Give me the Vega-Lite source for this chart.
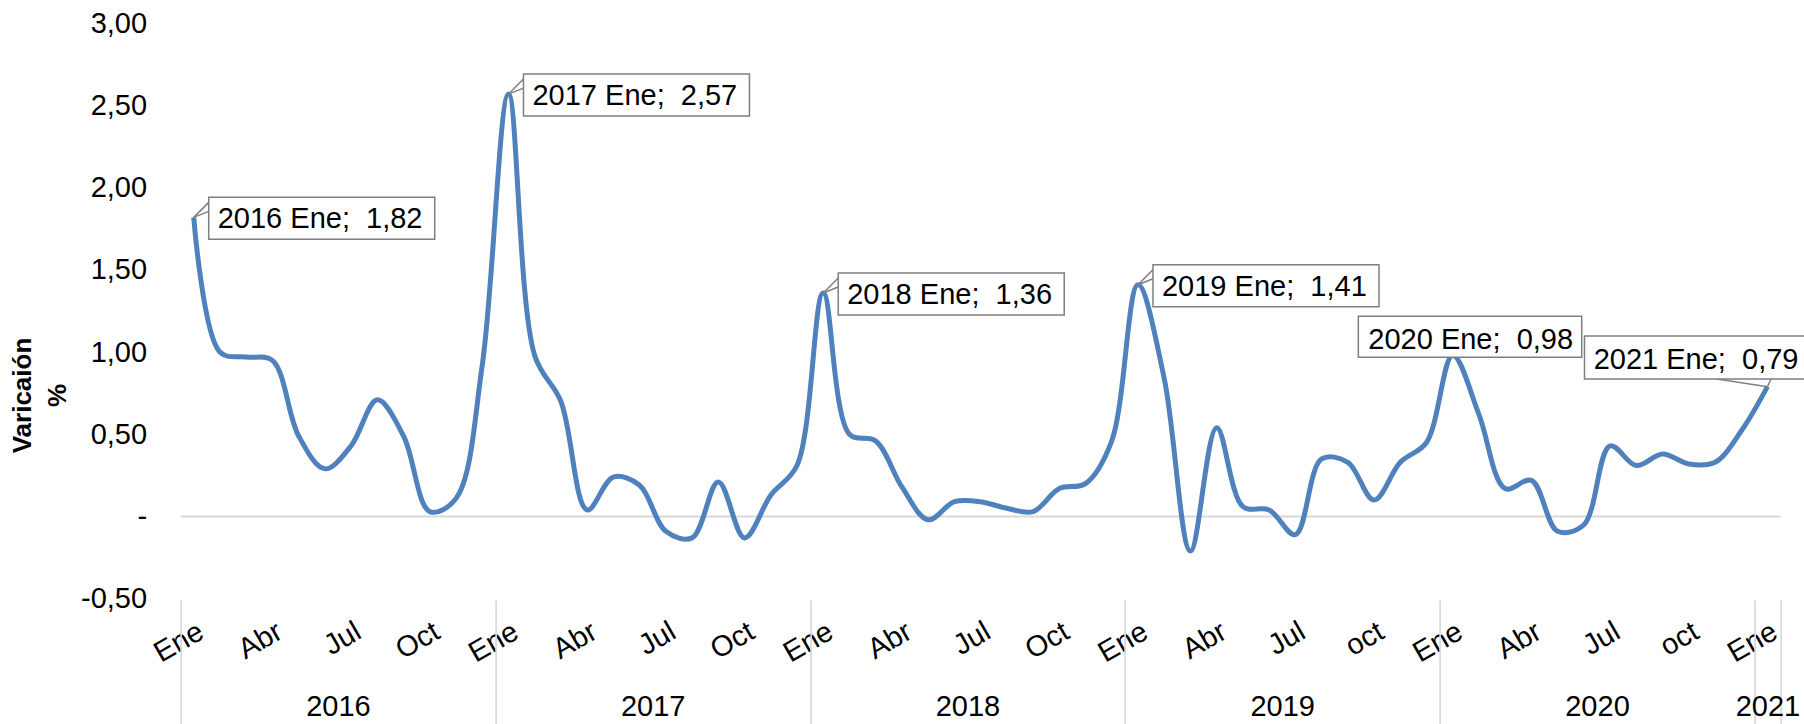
{
  "$schema": "https://vega.github.io/schema/vega-lite/v6.json",
  "width": 1600,
  "height": 575.3,
  "autosize": {"type": "none"},
  "padding": {"left": 180.6, "top": 23.4, "right": 23.4, "bottom": 125.3},
  "background": "white",
  "config": {
    "view": {"stroke": null},
    "font": "Liberation Sans",
    "axis": {"labelFont": "Liberation Sans", "titleFont": "Liberation Sans", "labelColor": "#000000", "titleColor": "#000000"}
  },
  "data": {
    "values": [
      {"n": 0, "anio": 2016, "mes": "Ene", "valor": 1.82, "etiqueta": "2016 Ene; \u00a01,82"},
      {"n": 1, "anio": 2016, "mes": "Feb", "valor": 1.00},
      {"n": 2, "anio": 2016, "mes": "Mar", "valor": 0.97},
      {"n": 3, "anio": 2016, "mes": "Abr", "valor": 0.95},
      {"n": 4, "anio": 2016, "mes": "May", "valor": 0.49},
      {"n": 5, "anio": 2016, "mes": "Jun", "valor": 0.29},
      {"n": 6, "anio": 2016, "mes": "Jul", "valor": 0.43},
      {"n": 7, "anio": 2016, "mes": "Ago", "valor": 0.71},
      {"n": 8, "anio": 2016, "mes": "Sep", "valor": 0.49},
      {"n": 9, "anio": 2016, "mes": "Oct", "valor": 0.03},
      {"n": 10, "anio": 2016, "mes": "Nov", "valor": 0.11},
      {"n": 11, "anio": 2016, "mes": "Dic", "valor": 0.92},
      {"n": 12, "anio": 2017, "mes": "Ene", "valor": 2.57, "etiqueta": "2017 Ene; \u00a02,57"},
      {"n": 13, "anio": 2017, "mes": "Feb", "valor": 0.98},
      {"n": 14, "anio": 2017, "mes": "Mar", "valor": 0.70},
      {"n": 15, "anio": 2017, "mes": "Abr", "valor": 0.04},
      {"n": 16, "anio": 2017, "mes": "May", "valor": 0.24},
      {"n": 17, "anio": 2017, "mes": "Jun", "valor": 0.19},
      {"n": 18, "anio": 2017, "mes": "Jul", "valor": -0.09},
      {"n": 19, "anio": 2017, "mes": "Ago", "valor": -0.13},
      {"n": 20, "anio": 2017, "mes": "Sep", "valor": 0.21},
      {"n": 21, "anio": 2017, "mes": "Oct", "valor": -0.13},
      {"n": 22, "anio": 2017, "mes": "Nov", "valor": 0.13},
      {"n": 23, "anio": 2017, "mes": "Dic", "valor": 0.31},
      {"n": 24, "anio": 2018, "mes": "Ene", "valor": 1.36, "etiqueta": "2018 Ene; \u00a01,36"},
      {"n": 25, "anio": 2018, "mes": "Feb", "valor": 0.50},
      {"n": 26, "anio": 2018, "mes": "Mar", "valor": 0.46},
      {"n": 27, "anio": 2018, "mes": "Abr", "valor": 0.18},
      {"n": 28, "anio": 2018, "mes": "May", "valor": -0.02},
      {"n": 29, "anio": 2018, "mes": "Jun", "valor": 0.09},
      {"n": 30, "anio": 2018, "mes": "Jul", "valor": 0.09},
      {"n": 31, "anio": 2018, "mes": "Ago", "valor": 0.05},
      {"n": 32, "anio": 2018, "mes": "Sep", "valor": 0.03},
      {"n": 33, "anio": 2018, "mes": "Oct", "valor": 0.17},
      {"n": 34, "anio": 2018, "mes": "Nov", "valor": 0.20},
      {"n": 35, "anio": 2018, "mes": "Dic", "valor": 0.46},
      {"n": 36, "anio": 2019, "mes": "Ene", "valor": 1.41, "etiqueta": "2019 Ene; \u00a01,41"},
      {"n": 37, "anio": 2019, "mes": "Feb", "valor": 0.84},
      {"n": 38, "anio": 2019, "mes": "Mar", "valor": -0.21},
      {"n": 39, "anio": 2019, "mes": "Abr", "valor": 0.54},
      {"n": 40, "anio": 2019, "mes": "May", "valor": 0.06},
      {"n": 41, "anio": 2019, "mes": "Jun", "valor": 0.04},
      {"n": 42, "anio": 2019, "mes": "Jul", "valor": -0.11},
      {"n": 43, "anio": 2019, "mes": "Ago", "valor": 0.35},
      {"n": 44, "anio": 2019, "mes": "Sep", "valor": 0.33},
      {"n": 45, "anio": 2019, "mes": "oct", "valor": 0.10},
      {"n": 46, "anio": 2019, "mes": "Nov", "valor": 0.33},
      {"n": 47, "anio": 2019, "mes": "Dic", "valor": 0.45},
      {"n": 48, "anio": 2020, "mes": "Ene", "valor": 0.98, "etiqueta": "2020 Ene; \u00a00,98"},
      {"n": 49, "anio": 2020, "mes": "Feb", "valor": 0.62},
      {"n": 50, "anio": 2020, "mes": "Mar", "valor": 0.17},
      {"n": 51, "anio": 2020, "mes": "Abr", "valor": 0.22},
      {"n": 52, "anio": 2020, "mes": "May", "valor": -0.09},
      {"n": 53, "anio": 2020, "mes": "Jun", "valor": -0.05},
      {"n": 54, "anio": 2020, "mes": "Jul", "valor": 0.43},
      {"n": 55, "anio": 2020, "mes": "Ago", "valor": 0.31},
      {"n": 56, "anio": 2020, "mes": "Sep", "valor": 0.38},
      {"n": 57, "anio": 2020, "mes": "oct", "valor": 0.32},
      {"n": 58, "anio": 2020, "mes": "Nov", "valor": 0.33},
      {"n": 59, "anio": 2020, "mes": "Dic", "valor": 0.52},
      {"n": 60, "anio": 2021, "mes": "Ene", "valor": 0.79, "etiqueta": "2021 Ene; \u00a00,79"}
    ]
  },
  "resolve": {"axis": {"x": "independent", "y": "independent"}},
  "layer": [
    {
      "data": {"values": [{}]},
      "mark": {"type": "rule", "color": "#D9D9D9", "strokeWidth": 2},
      "encoding": {
        "y": {"datum": 0, "type": "quantitative", "scale": {"domain": [-0.5, 3], "nice": false, "zero": false}, "axis": null}
      }
    },
    {
      "mark": {"type": "line", "interpolate": "catmull-rom", "color": "#4F81BD", "strokeWidth": 5},
      "encoding": {
        "x": {
          "field": "n", "type": "quantitative",
          "scale": {"domain": [-0.5, 60.5], "nice": false, "zero": false},
          "axis": {
            "orient": "bottom",
            "values": [0, 3, 6, 9, 12, 15, 18, 21, 24, 27, 30, 33, 36, 39, 42, 45, 48, 51, 54, 57, 60],
            "labelExpr": "datum.value == 45 || datum.value == 57 ? 'oct' : ['Ene','Abr','Jul','Oct'][(datum.value % 12) / 3]",
            "labelAngle": -30,
            "labelAlign": "right",
            "labelBaseline": "top",
            "labelPadding": 18,
            "labelFontSize": 29,
            "labelOverlap": false,
            "labelFlush": false,
            "labelBound": false,
            "ticks": false,
            "domain": false,
            "grid": false,
            "title": null
          }
        },
        "y": {
          "field": "valor", "type": "quantitative",
          "scale": {"domain": [-0.5, 3], "nice": false, "zero": false},
          "axis": {
            "orient": "left",
            "values": [-0.5, 0, 0.5, 1, 1.5, 2, 2.5, 3],
            "labelExpr": "datum.value == 0 ? '-\u00a0\u00a0' : (datum.value < 0 ? '-' : '') + replace(format(abs(datum.value), '.2f'), '.', ',')",
            "labelFontSize": 29,
            "labelPadding": 34,
            "labelOverlap": false,
            "labelFlush": false,
            "ticks": false,
            "domain": false,
            "grid": false,
            "title": ["Varicaión", "%"],
            "titleFontSize": 26,
            "titleFontWeight": "bold",
            "titleAngle": -90,
            "titleAlign": "center",
            "titleBaseline": "alphabetic",
            "titleLineHeight": 35,
            "titleX": -150.6,
            "titleY": 371.6
          }
        }
      }
    },
    {
      "transform": [{"filter": "datum.mes == 'Ene' && datum.anio <= 2019"}],
      "mark": {"type": "rule", "color": "#7F7F7F", "strokeWidth": 1.5, "x2Offset": 15, "y2Offset": -15},
      "encoding": {
        "x": {"field": "n", "type": "quantitative", "axis": null},
        "x2": {"field": "n"},
        "y": {"field": "valor", "type": "quantitative", "axis": null},
        "y2": {"field": "valor"}
      }
    },
    {
      "transform": [{"filter": "datum.mes == 'Ene' && datum.anio <= 2019"}],
      "mark": {"type": "rule", "color": "#7F7F7F", "strokeWidth": 1.5, "x2Offset": 15, "y2Offset": -6},
      "encoding": {
        "x": {"field": "n", "type": "quantitative", "axis": null},
        "x2": {"field": "n"},
        "y": {"field": "valor", "type": "quantitative", "axis": null},
        "y2": {"field": "valor"}
      }
    },
    {
      "transform": [{"filter": "datum.mes == 'Ene' && datum.anio == 2021"}],
      "mark": {"type": "rule", "color": "#7F7F7F", "strokeWidth": 1.5, "x2Offset": -50.4, "y2Offset": -7.7},
      "encoding": {
        "x": {"field": "n", "type": "quantitative", "axis": null},
        "x2": {"field": "n"},
        "y": {"field": "valor", "type": "quantitative", "axis": null},
        "y2": {"field": "valor"}
      }
    },
    {
      "transform": [{"filter": "datum.mes == 'Ene' && datum.anio == 2021"}],
      "mark": {"type": "rule", "color": "#7F7F7F", "strokeWidth": 1.5, "x2Offset": 3.6, "y2Offset": -7.7},
      "encoding": {
        "x": {"field": "n", "type": "quantitative", "axis": null},
        "x2": {"field": "n"},
        "y": {"field": "valor", "type": "quantitative", "axis": null},
        "y2": {"field": "valor"}
      }
    },
    {
      "transform": [{"filter": "datum.mes == 'Ene' && datum.anio <= 2019"}],
      "mark": {"type": "rect", "fill": "white", "stroke": "#7F7F7F", "strokeWidth": 1.5, "xOffset": 15, "x2Offset": 241, "yOffset": -20, "y2Offset": 22},
      "encoding": {
        "x": {
          "field": "n", "type": "quantitative",
          "axis": {
            "orient": "bottom",
            "values": [-0.5, 11.5, 23.5, 35.5, 47.5, 59.5, 60.5],
            "labels": false,
            "ticks": true,
            "tickSize": 126,
            "tickColor": "#D9D9D9",
            "tickWidth": 1.7,
            "domain": false,
            "grid": false,
            "title": null,
            "offset": 1
          }
        },
        "x2": {"field": "n"},
        "y": {"field": "valor", "type": "quantitative", "axis": null},
        "y2": {"field": "valor"}
      }
    },
    {
      "transform": [{"filter": "datum.mes == 'Ene' && datum.anio == 2020"}],
      "mark": {"type": "rect", "fill": "white", "stroke": "#7F7F7F", "strokeWidth": 1.5, "xOffset": -94.4, "x2Offset": 129, "yOffset": -39.2, "y2Offset": 1.8},
      "encoding": {
        "x": {"field": "n", "type": "quantitative", "axis": null},
        "x2": {"field": "n"},
        "y": {"field": "valor", "type": "quantitative", "axis": null},
        "y2": {"field": "valor"}
      }
    },
    {
      "transform": [{"filter": "datum.mes == 'Ene' && datum.anio == 2021"}],
      "mark": {"type": "rect", "fill": "white", "stroke": "#7F7F7F", "strokeWidth": 1.5, "xOffset": -183, "x2Offset": 60, "yOffset": -50.7, "y2Offset": -7.7},
      "encoding": {
        "x": {"field": "n", "type": "quantitative", "axis": null},
        "x2": {"field": "n"},
        "y": {"field": "valor", "type": "quantitative", "axis": null},
        "y2": {"field": "valor"}
      }
    },
    {
      "transform": [{"filter": "datum.mes == 'Ene' && datum.anio <= 2019"}],
      "mark": {"type": "text", "align": "left", "baseline": "middle", "dx": 24, "dy": 2, "fontSize": 29, "color": "#000000"},
      "encoding": {
        "x": {
          "field": "n", "type": "quantitative",
          "axis": {
            "orient": "bottom",
            "values": [5.5, 17.5, 29.5, 41.5, 53.5, 60],
            "labelExpr": "'' + (2016 + floor(datum.value / 12))",
            "labelAngle": 0,
            "labelAlign": "center",
            "labelBaseline": "alphabetic",
            "labelPadding": 117,
            "labelFontSize": 29,
            "labelOverlap": false,
            "labelFlush": false,
            "labelBound": false,
            "ticks": false,
            "domain": false,
            "grid": false,
            "title": null
          }
        },
        "y": {"field": "valor", "type": "quantitative", "axis": null},
        "text": {"field": "etiqueta"}
      }
    },
    {
      "transform": [{"filter": "datum.mes == 'Ene' && datum.anio == 2020"}],
      "mark": {"type": "text", "align": "left", "baseline": "middle", "dx": -84.4, "dy": -15.8, "fontSize": 29, "color": "#000000"},
      "encoding": {
        "x": {"field": "n", "type": "quantitative", "axis": null},
        "y": {"field": "valor", "type": "quantitative", "axis": null},
        "text": {"field": "etiqueta"}
      }
    },
    {
      "transform": [{"filter": "datum.mes == 'Ene' && datum.anio == 2021"}],
      "mark": {"type": "text", "align": "left", "baseline": "middle", "dx": -173.8, "dy": -26.5, "fontSize": 29, "color": "#000000"},
      "encoding": {
        "x": {"field": "n", "type": "quantitative", "axis": null},
        "y": {"field": "valor", "type": "quantitative", "axis": null},
        "text": {"field": "etiqueta"}
      }
    }
  ]
}
